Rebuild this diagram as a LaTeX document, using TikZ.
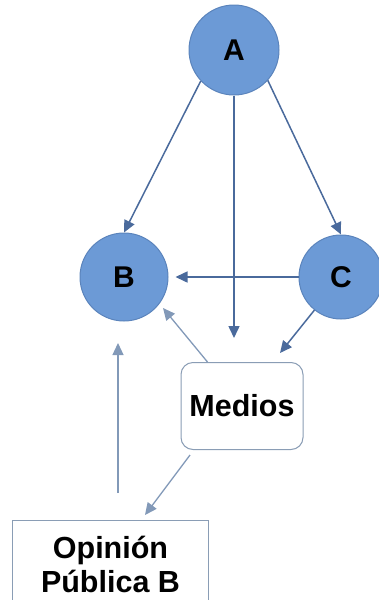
\documentclass[tikz,border=0pt]{standalone}
\usepackage{fontspec}
\setmainfont{Liberation Sans}
\usetikzlibrary{arrows.meta}
\definecolor{circfill}{HTML}{6C9AD6}
\definecolor{circline}{HTML}{5B84BC}
\definecolor{arrdark}{HTML}{4A6A9C}
\definecolor{arrlight}{HTML}{8299B8}
\definecolor{boxline}{HTML}{8A9DB5}
\begin{document}
\begin{tikzpicture}[x=1pt,y=-1pt,
  actor/.style={circle,fill=circfill,draw=circline,line width=1pt,minimum size=#1,inner sep=0pt,
    font=\fontsize{30}{31}\selectfont\bfseries},
  conn/.style={draw=arrdark,line width=1.5pt,-{Triangle[length=12pt,width=11pt]}},
  connl/.style={draw=arrlight,line width=1.3pt,-{Triangle[length=12pt,width=11pt]}},
  tbox/.style={draw=boxline,line width=1pt,fill=white,align=center,
    font=\fontsize{30.5}{34}\selectfont\bfseries}]
\useasboundingbox (0,0) rectangle (379,600);
\node[actor=90pt] (A) at (234,50) {A};
\node[actor=88pt] (B) at (124,277) {B};
\node[actor=84pt] (C) at (341,277) {C};
\node[tbox,rounded corners=12pt,minimum width=122pt,minimum height=87pt] (M) at (242,406) {Medios};
\node[tbox,minimum width=196pt,minimum height=88pt,anchor=north west] (O) at (12,520) {Opini\'on\\P\'ublica B};
\coordinate (Aend) at (234,338);
\coordinate (Obot) at (118,493);
\coordinate (Btop) at (118,343);
\draw[conn] (A.223) -- (B.north);
\draw[conn] (A.318) -- (C.north);
\draw[conn] (A.south) -- (Aend);
\draw[conn,shorten >=7pt] (C) -- (B);
\draw[connl] (M.north west) ++(27,0) coordinate (Mnw) -- (163,308) coordinate (Bse);
\draw[connl] (Obot) -- (Btop);
\draw[conn] (C) -- (280,353) coordinate (Mne);
\draw[connl] (190,455) coordinate (Msw) -- (145,515) coordinate (Otop);
\end{tikzpicture}
\end{document}
